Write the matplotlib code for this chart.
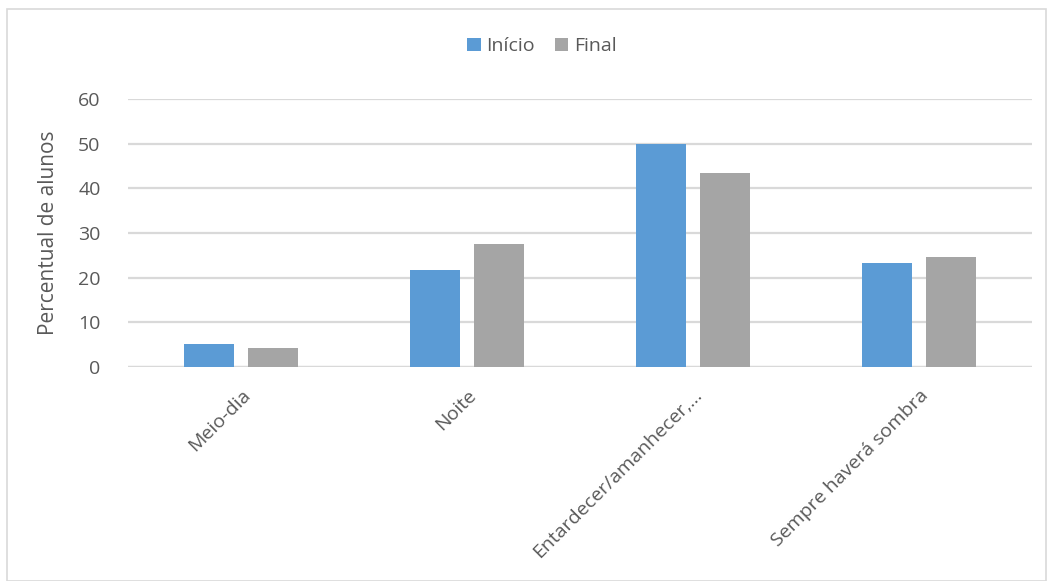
import matplotlib.pyplot as plt
import numpy as np
from matplotlib.patches import Rectangle

# respostas por categoria (% de alunos)
categorias = ['Meio-dia', 'Noite', 'Entardecer/amanhecer,...', 'Sempre haverá sombra']
inicio = [5.0, 21.6, 50.0, 23.2]
final = [4.1, 27.5, 43.5, 24.5]
yticks = [0, 10, 20, 30, 40, 50, 60]

azul = '#5B9BD5'
cinza = '#A5A5A5'
texto = '#595959'
grade = '#D9D9D9'

plt.rcParams['font.family'] = ['Liberation Sans Narrow', 'Open Sans', 'DejaVu Sans']

fig = plt.figure(figsize=(10.52, 5.81), dpi=100)
ax = fig.add_axes([0.122, 0.369, 0.859, 0.460])

x = np.arange(len(categorias))
w = 0.221
off = 0.1416
ax.bar(x - off, inicio, w, color=azul, label='Início', zorder=3)
ax.bar(x + off, final, w, color=cinza, label='Final', zorder=3)

ax.set_xlim(-0.5, len(categorias) - 0.5)
ax.set_ylim(0, 60)
ax.set_yticks(yticks)
ax.grid(axis='y', color=grade, linewidth=1.6, zorder=0)
ax.set_axisbelow(True)
for s in ax.spines.values():
    s.set_visible(False)
ax.axhline(0, color=grade, linewidth=1.6, zorder=2)

ax.tick_params(axis='both', length=0, colors=texto, labelsize=14)
ax.tick_params(axis='y', pad=20)
ax.tick_params(axis='x', pad=14)
ax.set_xticks(x)
ax.set_xticklabels(categorias, rotation=45, ha='right', rotation_mode='anchor')

ax.set_ylabel('Percentual de alunos', color=texto, fontsize=15,
              family=['Open Sans', 'DejaVu Sans'], labelpad=14)

fig.legend(loc='center', bbox_to_anchor=(0.515, 0.92), ncol=2, frameon=False,
           fontsize=14, handlelength=0.7, handleheight=0.7, handletextpad=0.3,
           columnspacing=1.0, labelcolor=texto)

# borda da área do gráfico
fig.patches.append(Rectangle((0.007, 0.0), 0.987, 0.985, transform=fig.transFigure,
                             fill=False, edgecolor='#D9D9D9', linewidth=1.2))

fig.savefig('out.png', dpi=100)
